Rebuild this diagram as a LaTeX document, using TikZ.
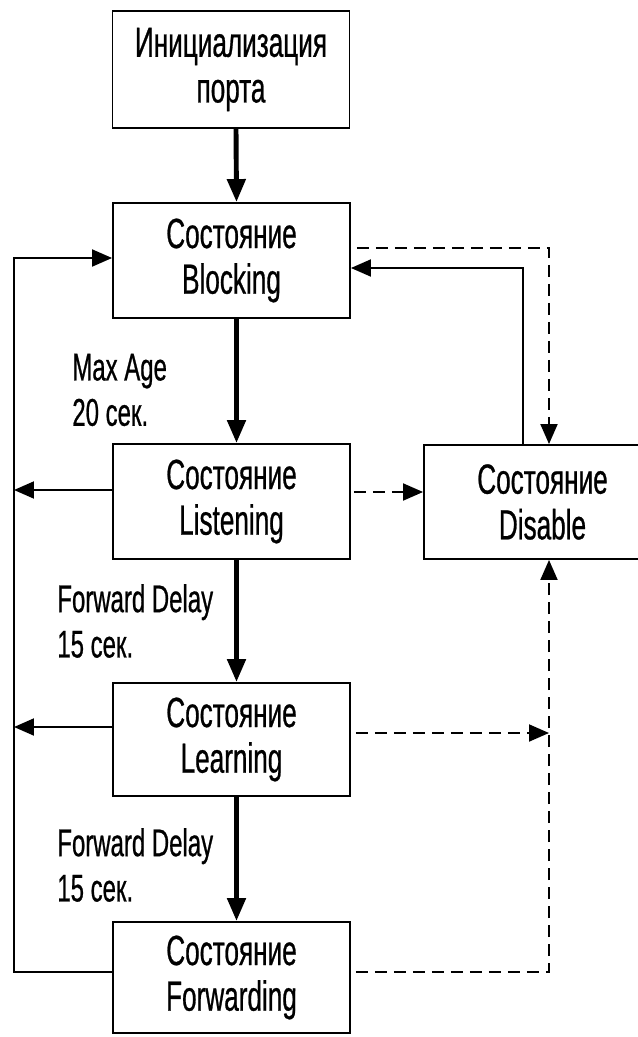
\documentclass[tikz,border=0pt]{standalone}
\usepackage{fontspec}
\setmainfont{Liberation Sans}[FakeStretch=0.62, FakeBold=0.6]
\usetikzlibrary{arrows.meta,calc}

\begin{document}
\begin{tikzpicture}[x=0.02cm, y=-0.02cm,
	state/.style={draw, line width=1.1pt, minimum width=4.74cm, minimum height=2.3cm, inner sep=0pt, align=center, font=\fontsize{24}{26}\selectfont},
	timer/.style={anchor=west, inner sep=0pt, align=left, font=\fontsize{22}{25.8}\selectfont},
	wire/.style={line width=1.1pt},
	link/.style={wire, -{Triangle[length=0.4cm, width=0.34cm]}},
	stepto/.style={line width=2.8pt, -{Triangle[length=0.46cm, width=0.36cm]}},
	dashwire/.style={wire, dash pattern=on 0.24cm off 0.14cm},
	dashlink/.style={link, dash pattern=on 0.24cm off 0.14cm}]
	\useasboundingbox (0,0) rectangle (638,1037);
	
	%states
	\node[state, minimum height=2.34cm] (init) at (231,69.5) {Инициализация\\порта};
	\node[state] (blocking) at (231.5,260.5) {Состояние\\Blocking};
	\node[state] (listening) at (231.5,501.5) {Состояние\\Listening};
	\node[state, minimum height=2.26cm] (learning) at (231.5,739.5) {Состояние\\Learning};
	\node[state, minimum height=2.22cm] (forwarding) at (231.5,977.5) {Состояние\\Forwarding};
	\node[state, minimum height=2.28cm] (disable) at (542.5,502) {Состояние\\Disable};
	
	%timers
	\node[timer] (maxage) at (72,390) {Max Age\\20 сек.};
	\node[timer] (delayi) at (57,621) {Forward Delay\\15 сек.};
	\node[timer] (delayii) at (57,865) {Forward Delay\\15 сек.};
	
	%rails
	\coordinate (rail) at (14,258);
	\coordinate (dcol) at ($(disable.south)+(6.5,0)$);
	
	%main path
	\foreach \a/\b in {init/blocking, blocking/listening, listening/learning, learning/forwarding}
		\draw[stepto] ($(\a.south)+(5,0)$) -- ($(\b.north)+(5,0)$);
	
	%back to blocking
	\draw[link] ($(forwarding.west)+(0,-5.5)$) -| (rail) -- (rail -| blocking.west);
	\draw[link] ($(listening.west)+(0,-11.5)$) coordinate (l1) -- (l1 -| rail);
	\draw[link] ($(learning.west)+(0,-12.5)$) coordinate (l2) -- (l2 -| rail);
	
	%to disable
	\draw[dashlink] ($(blocking.east)+(6,-12.5)$) -| (disable.north -| dcol);
	\draw[link] ($(disable.north)+(-19.5,0)$) |- ($(blocking.east)+(0,7.5)$);
	\draw[dashlink] ($(listening.east)+(3,-9.5)$) coordinate (d1) -- (d1 -| disable.west);
	\draw[dashlink] ($(learning.east)+(5,-6.5)$) coordinate (d2) -- (d2 -| dcol);
	\draw[dashlink] ($(forwarding.east)+(5,-5.5)$) -| (dcol);
	
\end{tikzpicture}
\end{document}
